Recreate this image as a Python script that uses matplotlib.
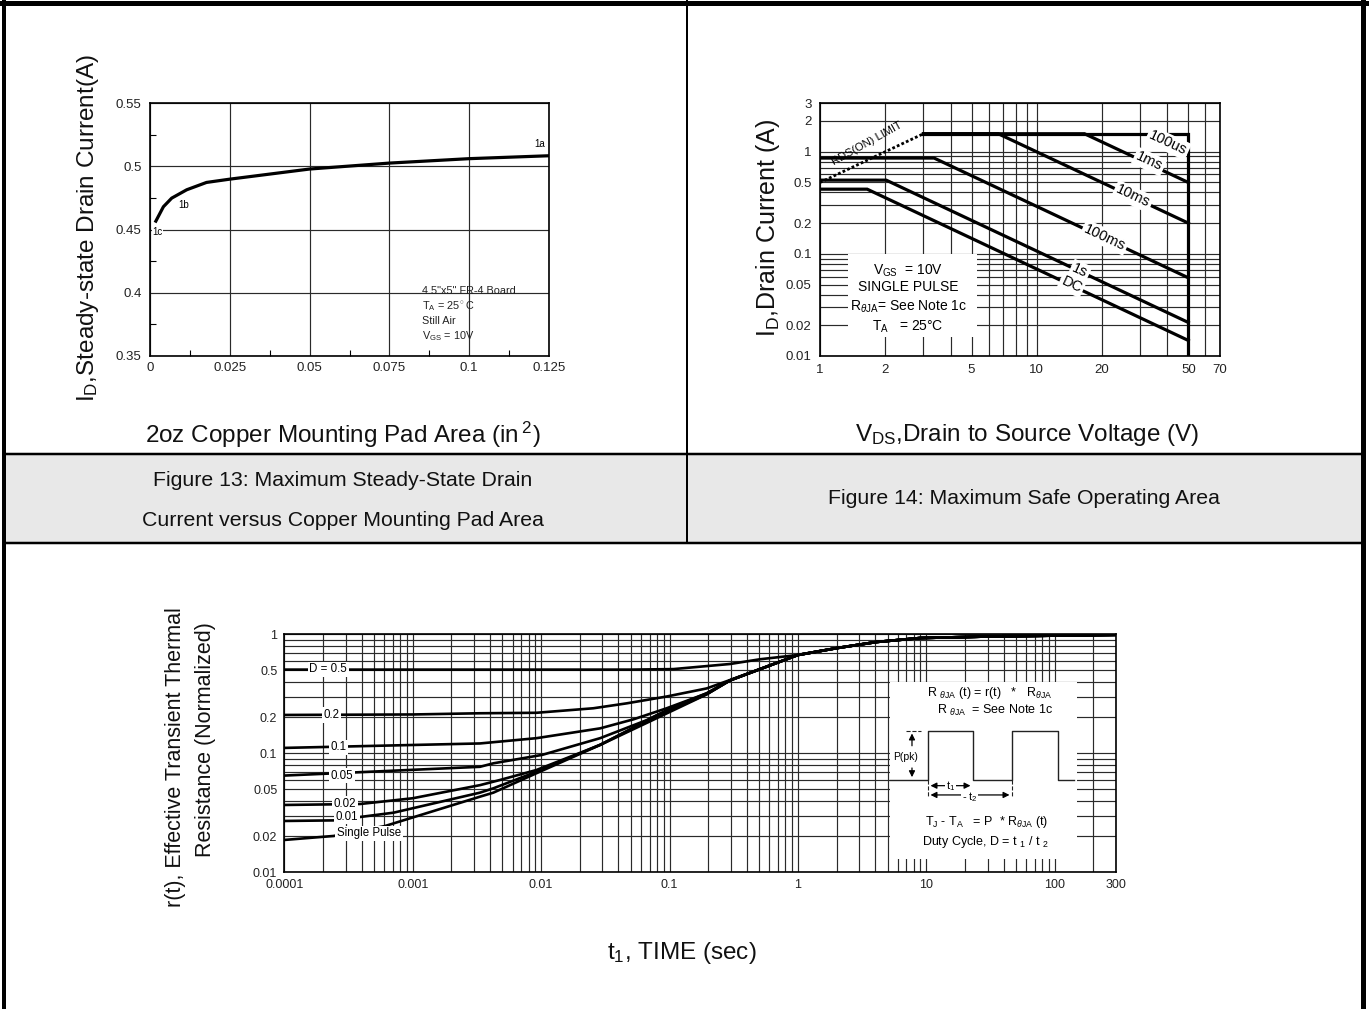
import numpy as np
import matplotlib
matplotlib.use('Agg')
import matplotlib.pyplot as plt
from matplotlib.patches import Rectangle

plt.rcParams['font.family'] = ['Liberation Sans', 'DejaVu Sans']
plt.rcParams['mathtext.fontset'] = 'custom'
plt.rcParams['mathtext.rm'] = 'Liberation Sans'
plt.rcParams['mathtext.it'] = 'Liberation Sans:italic'
plt.rcParams['mathtext.bf'] = 'Liberation Sans:bold'

# ---- Figure 13 data: steady-state drain current vs pad area
pad_area = [0.0016, 0.0042, 0.0068, 0.0115, 0.0177, 0.025, 0.05, 0.075, 0.1, 0.125]
id_steady = [0.4555, 0.468, 0.4748, 0.4814, 0.4872, 0.4898, 0.4978, 0.5025, 0.506, 0.5083]
pad_marks = ['1a', '1b', '1c']

# ---- Figure 14 data: safe operating area
rds_v = [1, 3]
rds_i = [0.5, 1.5]
soa_names = ['100us', '1ms', '10ms', '100ms', '1s', 'DC']
soa_v = [[3, 50, 50], [3, 16.6, 50], [3, 6.64, 50], [1, 3.36, 50], [1, 2.02, 50], [1, 1.65, 50]]
soa_i = [[1.5, 1.5, 0.01], [1.5, 1.5, 0.5], [1.5, 1.5, 0.2], [0.867, 0.867, 0.0583],
         [0.527, 0.527, 0.0213], [0.43, 0.43, 0.0142]]
soa_xticks = [1, 2, 5, 10, 20, 50, 70]
soa_yticks = [0.01, 0.02, 0.05, 0.1, 0.2, 0.5, 1, 2, 3]

# ---- Transient thermal response data
duty = ['D = 0.5', '0.2', '0.1', '0.05', '0.02', '0.01', 'Single Pulse']
t_d05 = [1e-4, 1e-3, 0.01, 0.05, 0.107, 0.296, 0.507]
r_d05 = [0.505, 0.505, 0.505, 0.505, 0.51, 0.563, 0.617]
t_d02 = [1e-4, 1e-3, 0.00334, 0.0092, 0.0255, 0.0465, 0.095, 0.195, 0.296]
r_d02 = [0.21, 0.212, 0.217, 0.219, 0.239, 0.263, 0.30, 0.351, 0.413]
t_d01 = [1e-4, 0.00334, 0.0092, 0.0288, 0.0524, 0.095, 0.195, 0.296]
r_d01 = [0.111, 0.121, 0.134, 0.162, 0.193, 0.239, 0.319, 0.41]
t_d005 = [1e-4, 0.00334, 0.00425, 0.0102, 0.0288, 0.0664, 0.107, 0.195, 0.296]
r_d005 = [0.065, 0.077, 0.0824, 0.097, 0.134, 0.19, 0.244, 0.32, 0.41]
t_d002 = [1e-4, 3.9e-4, 1e-3, 0.00334, 0.00479, 0.0092, 0.0288, 0.084, 0.195, 0.296]
r_d002 = [0.0368, 0.0375, 0.0419, 0.054, 0.0597, 0.0724, 0.1175, 0.215, 0.315, 0.41]
t_d001 = [1e-4, 2.42e-4, 7.1e-4, 0.00334, 0.00425, 0.0092, 0.0288, 0.084, 0.195, 0.296]
r_d001 = [0.027, 0.0273, 0.0317, 0.0467, 0.0508, 0.07, 0.118, 0.21, 0.314, 0.41]
t_sp = [1e-4, 2.42e-4, 6.1e-4, 0.00334, 0.00425, 0.0092, 0.0288, 0.084, 0.195, 0.296]
r_sp = [0.0187, 0.0202, 0.0245, 0.0432, 0.0467, 0.068, 0.1175, 0.203, 0.313, 0.41]
t_tail = [1, 2, 4.1, 8.9, 30, 100, 300]
r_tail = [0.67, 0.765, 0.862, 0.93, 0.958, 0.975, 0.99]
th_xticks = [1e-4, 1e-3, 0.01, 0.1, 1, 10, 100, 300]
th_xlabels = ['0.0001', '0.001', '0.01', '0.1', '1', '10', '100', '300']
th_yticks = [0.01, 0.02, 0.05, 0.1, 0.2, 0.5, 1]

W, H = 1369, 1009
fig = plt.figure(figsize=(W / 100, H / 100), dpi=100)

# page frame in pixel coordinates
bg = fig.add_axes([0, 0, 1, 1])
bg.set_xlim(0, W)
bg.set_ylim(H, 0)
bg.axis('off')
bg.add_patch(Rectangle((4, 455), 1358, 88, facecolor='#e8e8e8', edgecolor='none'))
px = 0.72
bg.plot([0, W], [2.5, 2.5], color='black', lw=5 * px)
bg.plot([4, 4], [0, H], color='black', lw=4 * px)
bg.plot([1362.5, 1362.5], [0, H], color='black', lw=5 * px)
bg.plot([687, 687], [0, 543], color='black', lw=2 * px)
bg.plot([4, 1362], [454, 454], color='black', lw=2.5 * px)
bg.plot([4, 1362], [543, 543], color='black', lw=2.5 * px)

tc = '#111111'
bg.text(343, 435, '2oz Copper Mounting Pad Area (in$\\,^2$)', fontsize=17.5, ha='center', va='center', color=tc)
bg.text(1027, 435, 'V$_{\\rm DS}$,Drain to Source Voltage (V)', fontsize=17.5, ha='center', va='center', color=tc)
bg.text(88, 228, 'I$_{\\rm D}$,Steady-state Drain Current(A)', fontsize=17.5, ha='center', va='center',
        rotation=90, color=tc)
bg.text(768, 228, 'I$_{\\rm D}$,Drain Current (A)', fontsize=18, ha='center', va='center', rotation=90, color=tc)
bg.text(343, 480, 'Figure 13: Maximum Steady-State Drain', fontsize=15.3, ha='center', va='center', color=tc)
bg.text(343, 521, 'Current versus Copper Mounting Pad Area', fontsize=15.3, ha='center', va='center', color=tc)
bg.text(1024, 499, 'Figure 14: Maximum Safe Operating Area', fontsize=15.3, ha='center', va='center', color=tc)
bg.text(176, 757, 'r(t), Effective Transient Thermal', fontsize=15.5, ha='center', va='center', rotation=90, color=tc)
bg.text(206, 740, 'Resistance (Normalized)', fontsize=15.5, ha='center', va='center', rotation=90, color=tc)
bg.text(682, 953, 't$_1$, TIME (sec)', fontsize=17.5, ha='center', va='center', color=tc)


def place(l, t, r, b):
    return fig.add_axes([l / W, (H - b) / H, (r - l) / W, (b - t) / H])


grid_kw = dict(color='#2a2a2a', lw=0.85)

# ---------------- Figure 13
ax1 = place(150, 103, 549, 356)
ax1.plot(pad_area, id_steady, color='black', lw=2.3, solid_capstyle='butt')
ax1.set_xlim(0, 0.125)
ax1.set_ylim(0.35, 0.55)
ax1.set_xticks(np.arange(0, 0.126, 0.025))
ax1.set_xticklabels(['0', '0.025', '0.05', '0.075', '0.1', '0.125'])
ax1.set_yticks([0.35, 0.4, 0.45, 0.5, 0.55])
ax1.set_yticklabels(['0.35', '0.4', '0.45', '0.5', '0.55'])
ax1.set_xticks(np.arange(0.0125, 0.125, 0.025), minor=True)
ax1.set_yticks([0.375, 0.425, 0.475, 0.525], minor=True)
ax1.grid(True, which='major', **grid_kw)
ax1.tick_params(which='major', length=0, labelsize=9.5, colors='#222222', pad=6)
ax1.tick_params(which='minor', direction='in', length=4, width=0.8)
ax1.tick_params(axis='x', pad=4)
for s in ax1.spines.values():
    s.set_linewidth(1.2)
ax1.text(pad_area[-1] - 0.003, id_steady[-1] + 0.0095, pad_marks[0], fontsize=7, ha='center', va='center')
ax1.text(0.0106, 0.4695, pad_marks[1], fontsize=7, ha='center', va='center')
ax1.text(0.0023, 0.4481, pad_marks[2], fontsize=7, ha='center', va='center',
         bbox=dict(facecolor='white', edgecolor='none', pad=0.5))
notes1 = ['4.5"x5" FR-4 Board', 'T$_{\\rm A}$ = 25$^\\circ$C', 'Still Air', 'V$_{\\rm GS}$ = 10V']
for k, s in enumerate(notes1):
    ax1.text(0.0853, 0.401 - k * 0.0117, s, fontsize=7.8, ha='left', va='center', color='#222222')

# ---------------- Figure 14
ax2 = place(820, 103, 1220, 356)
ax2.set_xscale('log')
ax2.set_yscale('log')
ax2.set_xlim(1, 70)
ax2.set_ylim(0.01, 3)
ax2.set_xticks(soa_xticks)
ax2.set_xticklabels([str(v) for v in soa_xticks])
ax2.set_xticks([3, 4, 6, 7, 8, 9, 30, 40, 60], minor=True)
ax2.set_yticks(soa_yticks)
ax2.set_yticklabels(['0.01', '0.02', '0.05', '0.1', '0.2', '0.5', '1', '2', '3'])
ax2.set_yticks([0.03, 0.04, 0.06, 0.07, 0.08, 0.09, 0.3, 0.4, 0.6, 0.7, 0.8, 0.9], minor=True)
ax2.tick_params(which='minor', labelbottom=False, labelleft=False, length=0)
ax2.tick_params(which='major', length=0, labelsize=9.5, colors='#222222', pad=6)
ax2.grid(True, which='both', **grid_kw)
ax2.set_axisbelow(True)
for s in ax2.spines.values():
    s.set_linewidth(1.2)
ax2.add_patch(Rectangle((1.35, 0.0153), 5.3 - 1.35, 0.1 - 0.0153, facecolor='white', edgecolor='none', zorder=1))
ax2.plot(rds_v, rds_i, color='black', lw=2.0, ls=(0, (1, 0.8)), zorder=3)
for v, i in zip(soa_v, soa_i):
    ax2.plot(v, i, color='black', lw=2.3, zorder=3, solid_joinstyle='miter')
soa_lab_pos = [(40.3, 1.22), (33, 0.80), (27.8, 0.365), (20.6, 0.145), (15.8, 0.068), (14.5, 0.050)]
for name, (xv, yv) in zip(soa_names, soa_lab_pos):
    ax2.text(xv, yv, name, fontsize=10.5, rotation=-25, ha='center', va='center', zorder=4,
             bbox=dict(facecolor='white', edgecolor='none', pad=1.5))
ax2.text(1.65, 1.2, 'RDS(ON) LIMIT', fontsize=8, rotation=29, ha='center', va='center', zorder=4)
soa_notes = ['V$_{\\rm GS}$  = 10V', 'SINGLE PULSE', 'R$_{\\theta\\rm JA}$= See Note 1c', 'T$_{\\rm A}$   = 25°C']
for s, yv in zip(soa_notes, [0.069, 0.047, 0.030, 0.0195]):
    ax2.text(2.55, yv, s, fontsize=10, ha='center', va='center', zorder=4)

# ---------------- Transient thermal response
ax3 = place(284.3, 634.3, 1116, 872.3)
ax3.set_xscale('log')
ax3.set_yscale('log')
ax3.set_xlim(1e-4, 300)
ax3.set_ylim(0.01, 1)
ax3.set_xticks(th_xticks)
ax3.set_xticklabels(th_xlabels)
ax3.set_xticks([m * 10.0 ** e for e in range(-4, 3) for m in range(2, 10) if m * 10.0 ** e < 300], minor=True)
ax3.set_yticks(th_yticks)
ax3.set_yticklabels(['0.01', '0.02', '0.05', '0.1', '0.2', '0.5', '1'])
ax3.set_yticks([m * 10.0 ** e for e in (-2, -1) for m in range(3, 10) if m != 5], minor=True)
ax3.tick_params(which='minor', labelbottom=False, labelleft=False, length=0)
ax3.tick_params(which='major', length=0, labelsize=9, colors='#222222', pad=5)
ax3.grid(True, which='both', **grid_kw)
ax3.set_axisbelow(True)
for s in ax3.spines.values():
    s.set_linewidth(1.2)
ax3.add_patch(Rectangle((5.2, 0.013), 150 - 5.2, 0.4 - 0.013, facecolor='white', edgecolor='none', zorder=1))

curves_t = [t_d05, t_d02, t_d01, t_d005, t_d002, t_d001, t_sp]
curves_r = [r_d05, r_d02, r_d01, r_d005, r_d002, r_d001, r_sp]
for tt, rr in zip(curves_t, curves_r):
    ax3.plot(tt + t_tail, rr + r_tail, color='black', lw=1.9, zorder=3)
th_lab_pos = [(0.00022, 0.508), (0.000234, 0.21), (0.000263, 0.112), (0.00028, 0.065),
              (0.000297, 0.0375), (0.000306, 0.0293), (0.000457, 0.0213)]
for name, (xv, yv) in zip(duty, th_lab_pos):
    ax3.text(xv, yv, name, fontsize=8.3, ha='center', va='center', zorder=4,
             bbox=dict(facecolor='white', edgecolor='none', pad=1.2))

# inset diagram (axes fraction coordinates)
T = ax3.transAxes
ins = dict(transform=T, fontsize=9, ha='center', va='center', zorder=5)
ax3.text(0.8484, 0.753, 'R $_{\\theta\\rm JA}$ (t) = r(t)   *   R$_{\\theta\\rm JA}$', **ins)
ax3.text(0.8545, 0.679, 'R $_{\\theta\\rm JA}$  = See Note 1c', **ins)
ax3.text(0.8445, 0.2126, 'T$_{\\rm J}$ - T$_{\\rm A}$   = P  * R$_{\\theta\\rm JA}$ (t)', **ins)
ax3.text(0.8425, 0.1286, 'Duty Cycle, D = t $_1$ / t $_2$', **ins)
wave_x = [0.728, 0.7736, 0.7736, 0.8284, 0.8284, 0.8753, 0.8753, 0.9299, 0.9299, 0.9495]
wave_y = [0.388, 0.388, 0.595, 0.595, 0.388, 0.388, 0.595, 0.595, 0.388, 0.388]
ax3.plot(wave_x, wave_y, transform=T, color='#222222', lw=1.0, zorder=5)
ax3.plot([0.748, 0.766], [0.595, 0.595], transform=T, color='#222222', lw=0.8, ls='--', zorder=5)
ax3.plot([0.7736, 0.7736], [0.388, 0.315], transform=T, color='#222222', lw=0.8, ls='--', zorder=5)
ax3.plot([0.8753, 0.8753], [0.388, 0.315], transform=T, color='#222222', lw=0.8, ls='--', zorder=5)
arr = dict(arrowstyle='-|>', color='black', lw=0.9, mutation_scale=9)
ax3.annotate('', xy=(0.7547, 0.595), xytext=(0.7547, 0.52), xycoords=T, textcoords=T, arrowprops=arr, zorder=5)
ax3.annotate('', xy=(0.7547, 0.388), xytext=(0.7547, 0.45), xycoords=T, textcoords=T, arrowprops=arr, zorder=5)
ax3.text(0.7467, 0.485, 'P(pk)', transform=T, fontsize=7.5, ha='center', va='center', zorder=6,
         bbox=dict(facecolor='white', edgecolor='none', pad=0.5))
ax3.annotate('', xy=(0.7736, 0.364), xytext=(0.8284, 0.364), xycoords=T, textcoords=T,
             arrowprops=dict(arrowstyle='<|-|>', color='black', lw=0.9, mutation_scale=9), zorder=5)
ax3.text(0.801, 0.364, 't$_1$', transform=T, fontsize=8, ha='center', va='center', zorder=6,
         bbox=dict(facecolor='white', edgecolor='none', pad=0.3))
ax3.annotate('', xy=(0.7736, 0.325), xytext=(0.8753, 0.325), xycoords=T, textcoords=T,
             arrowprops=dict(arrowstyle='<|-|>', color='black', lw=0.9, mutation_scale=9), zorder=5)
ax3.text(0.824, 0.318, '- t$_2$', transform=T, fontsize=8, ha='center', va='center', zorder=6,
         bbox=dict(facecolor='white', edgecolor='none', pad=0.3))

fig.savefig('out.png', dpi=100)
